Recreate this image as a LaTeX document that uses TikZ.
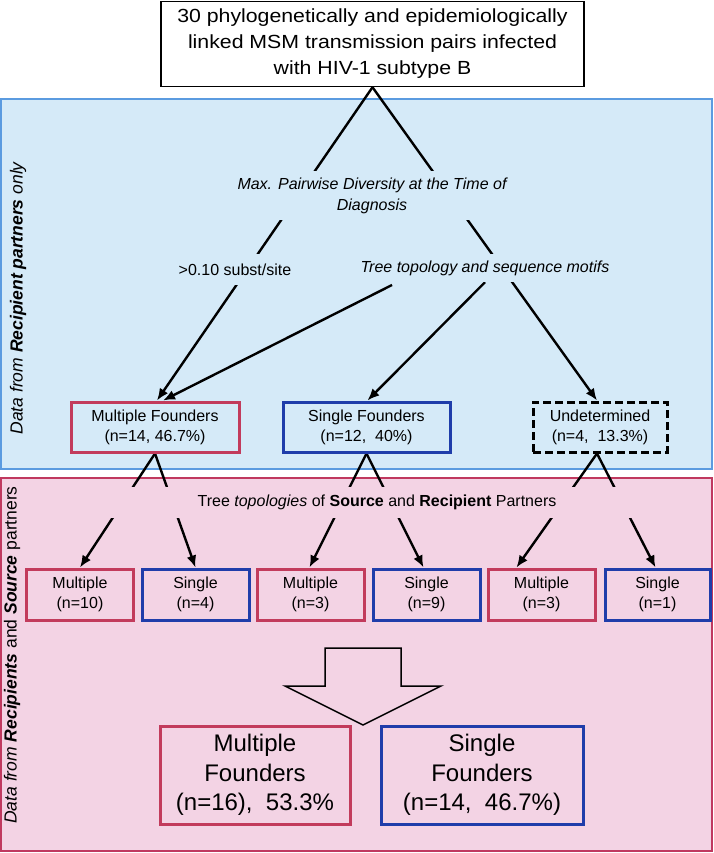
\documentclass[tikz,border=0pt]{standalone}
\usepackage{fontspec}
\setmainfont{Liberation Sans}
\newfontfamily\topfont[FakeStretch=1.12]{Liberation Sans}
\usetikzlibrary{arrows.meta,calc}
\definecolor{bluefill}{HTML}{D5EAF8}
\definecolor{blueedge}{HTML}{5B9BE0}
\definecolor{pinkfill}{HTML}{F3D3E4}
\definecolor{pinkedge}{HTML}{C0395F}
\definecolor{redbox}{HTML}{C23B5C}
\definecolor{bluebox}{HTML}{1F3DAA}
\pgfdeclarelayer{bg}
\pgfdeclarelayer{lines}
\pgfsetlayers{bg,lines,main}
\begin{document}
\begin{tikzpicture}[x=1pt,y=-1pt,
  every node/.style={inner sep=0pt, align=center, text=black},
  txt/.style={font=\fontsize{16}{20}\selectfont},
  bigtxt/.style={font=\fontsize{24}{29.5}\selectfont},
  redb/.style={draw=redbox, line width=3pt},
  blueb/.style={draw=bluebox, line width=3pt},
  undb/.style={draw=black, line width=3pt, dash pattern=on 8pt off 4pt},
  conn/.style={line width=2.4pt, draw=black},
  arr/.style={conn, -{Latex[length=12pt,width=10pt]}},
  sidelabel/.style={rotate=90, font=\fontsize{17.5}{20}\selectfont},
]
\useasboundingbox (0,0) rectangle (713,853);

% regions
\begin{pgfonlayer}{bg}
\fill[white] (0,0) rectangle (713,853);
\draw[blueedge, fill=bluefill, line width=1.5pt] (1,99) rectangle (712,469);
\draw[pinkedge, fill=pinkfill, line width=2pt] (1,478) rectangle (712,851);
\end{pgfonlayer}

\node[sidelabel] (lblA) at (18,298) {\textit{Data from} \textbf{\textit{Recipient partners}} \textit{only}};
\node[sidelabel] (lblB) at (12,655) {\textit{Data from} \textbf{\textit{Recipients}} and \textbf{\textit{Source}} partners};

% top box
\node[draw=black, line width=1.5pt, fill=white, minimum width=423pt, minimum height=85pt,
      font=\topfont\fontsize{19}{26}\selectfont] (top) at (372.5,44)
  {30 phylogenetically and epidemiologically\\linked MSM transmission pairs infected\\with HIV-1 subtype B};

% labels (masking the connectors)
\node[txt, font=\fontsize{16}{21}\selectfont\itshape, fill=bluefill, minimum height=49pt, inner xsep=2pt] (maxdiv) at (372,195.5)
  {Max. Pairwise Diversity at the Time of\\Diagnosis};
\node[txt, fill=bluefill, minimum height=31pt, inner xsep=2pt] (subst) at (235,269.5) {>0.10 subst/site};
\node[txt, font=\fontsize{16}{20}\selectfont\itshape, fill=bluefill, minimum height=28pt, inner xsep=2pt] (tree) at (485,268)
  {Tree topology and sequence motifs};

% first-tier boxes
\node[txt, redb, minimum width=168pt, minimum height=50pt] (mf) at (155,427) {Multiple Founders\\(n=14, 46.7\%)};
\node[txt, blueb, minimum width=167pt, minimum height=50pt] (sf) at (366.5,427) {Single Founders\\(n=12,\ \ 40\%)};
\node[txt, undb, minimum width=134pt, minimum height=50pt] (ud) at (600,427) {Undetermined\\(n=4,\ \ 13.3\%)};

% second label band
\node[txt, fill=pinkfill, minimum width=545pt, minimum height=31pt] (topo) at (377,502.5)
  {Tree \textit{topologies} of \textbf{Source} and \textbf{Recipient} Partners};

% small boxes
\node[txt, redb, minimum width=107pt, minimum height=51pt] (b1) at (80,594.5) {Multiple\\(n=10)};
\node[txt, blueb, minimum width=107pt, minimum height=51pt] (b2) at (195.5,594.5) {Single\\(n=4)};
\node[txt, redb, minimum width=107pt, minimum height=51pt] (b3) at (310.5,594.5) {Multiple\\(n=3)};
\node[txt, blueb, minimum width=107pt, minimum height=51pt] (b4) at (426.5,594.5) {Single\\(n=9)};
\node[txt, redb, minimum width=107pt, minimum height=51pt] (b5) at (541.5,594.5) {Multiple\\(n=3)};
\node[txt, blueb, minimum width=105pt, minimum height=51pt] (b6) at (657.5,594.5) {Single\\(n=1)};

% big result boxes
\node[bigtxt, redb, minimum width=190pt, minimum height=98pt] (rm) at (255,775) {Multiple\\Founders\\(n=16),\ \ 53.3\%};
\node[bigtxt, blueb, minimum width=202pt, minimum height=98pt] (rs) at (482,775) {Single\\Founders\\(n=14,\ \ 46.7\%)};

% block arrow
\draw[line width=1.5pt, line join=miter] (325,648) -- (401,648) -- (401,686) -- (441,686) -- (363,725)
  -- (285,686) -- (325,686) -- cycle;

% connectors
\coordinate (t1) at (392,285);
\begin{pgfonlayer}{lines}
\draw[arr] (top.south) -- ([xshift=2pt]mf.north);
\draw[arr] (top.south) -- ([xshift=-3pt]ud.north);
\draw[arr] (t1) -- ([xshift=8pt]mf.north);
\draw[arr] (tree.south) -- ([xshift=1pt]sf.north);
\draw[arr] (mf.south) -- (b1.north);
\draw[arr] (mf.south) -- (b2.north);
\draw[arr] (sf.south) -- ([xshift=-1pt]b3.north);
\draw[arr] (sf.south) -- ([xshift=-3pt]b4.north);
\draw[arr] ([xshift=-3pt]ud.south) -- ([xshift=-25pt]b5.north);
\draw[arr] ([xshift=-3pt]ud.south) -- ([xshift=-2pt]b6.north);
\end{pgfonlayer}
\end{tikzpicture}
\end{document}
